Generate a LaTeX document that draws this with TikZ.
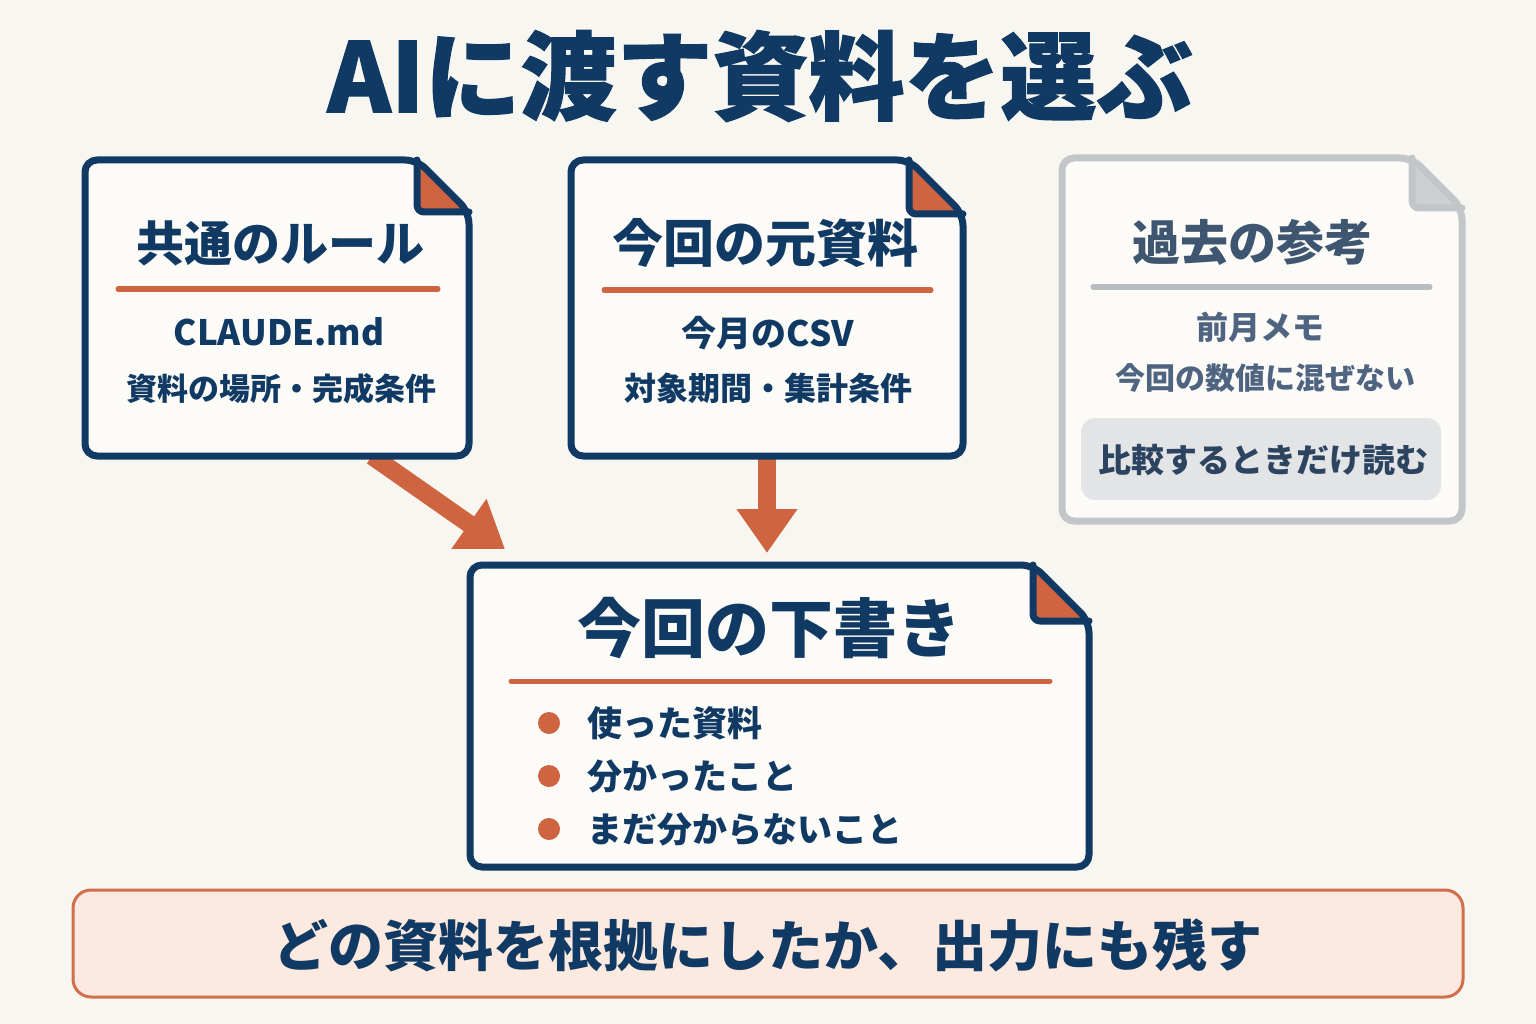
\documentclass[tikz,border=0pt]{standalone}
\usepackage{fontspec}
\setmainfont{Noto Sans CJK JP}
\newfontfamily\jpheavy[BoldFeatures={FakeBold=1.3}]{Noto Sans CJK JP}
\usetikzlibrary{arrows.meta,calc}
\definecolor{navy}{HTML}{103A63}
\definecolor{accent}{HTML}{CF6540}
\definecolor{bg}{HTML}{F8F6F1}
\definecolor{boxfill}{HTML}{FCFBF8}
\definecolor{grayline}{HTML}{C3C6C9}
\definecolor{grayfold}{HTML}{CDD0D3}
\definecolor{grayrule}{HTML}{B9BDC0}
\definecolor{graytext}{HTML}{3F5670}
\definecolor{graylight}{HTML}{4E6480}
\definecolor{graydark}{HTML}{2D4461}
\definecolor{graybox}{HTML}{E3E4E5}
\definecolor{bannerfill}{HTML}{FCE9DF}
\definecolor{bannerline}{HTML}{D0704A}
\newcommand\fs[1]{\fontsize{#1}{#1}\selectfont}
\newcommand\docshape[4]{%
  \fill[boxfill, rounded corners=12pt] (#1.south) -- (#1.south west) -- (#1.north west) -- ([xshift=-#2]#1.north east) -- ([yshift=-#2]#1.north east) -- (#1.south east) -- cycle;
  \fill[#4] ([xshift=-#2]#1.north east) -- ([xshift=-#2,yshift=-#2]#1.north east) -- ([yshift=-#2]#1.north east) -- cycle;
  \draw[#3, line width=7pt, rounded corners=12pt, line join=round] (#1.south) -- (#1.south west) -- (#1.north west) -- ([xshift=-#2]#1.north east) -- ([yshift=-#2]#1.north east) -- (#1.south east) -- cycle;
  \draw[#3, line width=7pt, rounded corners=7pt, line join=round, line cap=round] ([xshift=-#2]#1.north east) -- ([xshift=-#2,yshift=-#2]#1.north east) -- ([yshift=-#2]#1.north east);
}
\tikzset{
  docnode/.style={inner sep=0pt, outer sep=0pt, draw=none},
  txt/.style={inner sep=0pt, text=navy, font=\bfseries\fs{#1}},
  gtxt/.style={inner sep=0pt, text=graylight, font=\bfseries\fs{#1}},
  bigarrow/.style={draw=accent, line width=18pt, -{Triangle[length=44pt,width=58pt]}},
  rule/.style={line width=5pt, line cap=round},
  bullet/.style={circle, fill=accent, minimum size=22pt, inner sep=0pt}
}
\begin{document}
\begin{tikzpicture}[x=1pt,y=-1pt]
\useasboundingbox (0,0) rectangle (1536,1024);
\fill[bg] (0,0) rectangle (1536,1024);

% title
\node[inner sep=0pt, text=navy, font=\jpheavy\bfseries\fs{96}] (title) at (760,76) {AIに渡す資料を選ぶ};

% box nodes
\node[docnode, minimum width=384pt, minimum height=296pt] (b1) at (277,308) {};
\node[docnode, minimum width=392pt, minimum height=296pt] (b2) at (767,308) {};
\node[docnode, minimum width=400pt, minimum height=363pt] (b3) at (1262,339.5) {};
\node[docnode, minimum width=619pt, minimum height=302pt] (b4) at (779.5,716) {};

% arrows
\draw[bigarrow] ([xshift=95pt]b1.south) -- ($(b4.north)+(-274.5,-16)$);
\draw[bigarrow] (b2.south) -- ($(b2.south |- b4.north)+(0,-12)$);

% documents
\docshape{b1}{52pt}{navy}{accent}
\docshape{b2}{54pt}{navy}{accent}
\docshape{b3}{50pt}{grayline}{grayfold}
\docshape{b4}{56pt}{navy}{accent}

% box 1
\node[txt=48] (b1t) at (280,243) {共通のルール};
\draw[accent, rule] (118,289) -- (438,289);
\node[txt=35] (b1a) at (279,332) {CLAUDE.md};
\node[txt=31] (b1b) at (281,389) {資料の場所・完成条件};

% box 2
\node[txt=51] (b2t) at (765,243) {今回の元資料};
\draw[accent, rule] (604,290) -- (931,290);
\node[txt=35] (b2a) at (768,333) {今月のCSV};
\node[txt=32] (b2b) at (768,388) {対象期間・集計条件};

% box 3
\node[txt=48, text=graytext] (b3t) at (1252,243) {過去の参考};
\draw[grayrule, rule] (1093,287) -- (1430,287);
\node[gtxt=32] (b3a) at (1260,327) {前月メモ};
\node[gtxt=30] (b3b) at (1265,378) {今回の数値に混ぜない};
\node[fill=graybox, rounded corners=14pt, minimum width=360pt, minimum height=82pt, inner sep=0pt] (b3box) at (1261,459) {};
\node[txt=33, text=graydark] (b3c) at (1263,460) {比較するときだけ読む};

% box 4
\node[txt=64] (b4t) at (769,628) {今回の下書き};
\draw[accent, rule] (511,681) -- (1050,681);
\node[bullet] (d1) at (549,723) {};
\node[bullet] (d2) at (549,776) {};
\node[bullet] (d3) at (549,829) {};
\node[txt=35, anchor=west] (i1) at (587,723) {使った資料};
\node[txt=35, anchor=west] (i2) at (587,776) {分かったこと};
\node[txt=35, anchor=west] (i3) at (587,829) {まだ分からないこと};

% banner
\node[draw=bannerline, fill=bannerfill, line width=3pt, rounded corners=18pt, minimum width=1390pt, minimum height=107pt, inner sep=0pt] (banner) at (768,943.5) {};
\node[txt=55] (bannertext) at (768,945) {どの資料を根拠にしたか、出力にも残す};
\end{tikzpicture}
\end{document}
